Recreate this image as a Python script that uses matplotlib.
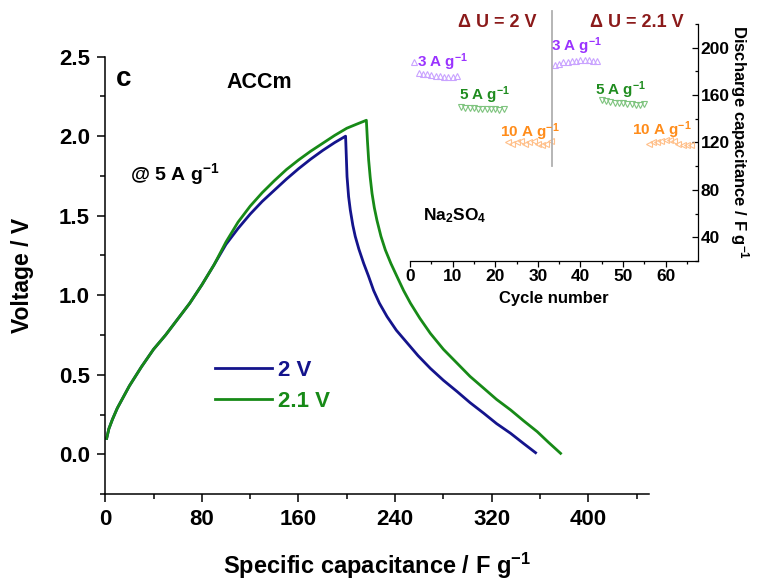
import matplotlib
matplotlib.use('Agg')
import matplotlib.pyplot as plt
from matplotlib.ticker import MultipleLocator

plt.rcParams['font.family'] = ['Liberation Sans', 'DejaVu Sans']
plt.rcParams['font.weight'] = 'bold'
plt.rcParams['mathtext.fontset'] = 'custom'
plt.rcParams['mathtext.rm'] = 'Liberation Sans:bold'
plt.rcParams['mathtext.it'] = 'Liberation Sans:bold'
plt.rcParams['mathtext.bf'] = 'Liberation Sans:bold'
plt.rcParams['mathtext.default'] = 'rm'

# GCD curves at 5 A/g (specific capacitance, voltage)
cap_2v = [1.2, 3, 6, 10, 15, 20, 25, 30, 40, 50, 60, 70, 80, 90, 100, 110, 120, 130, 140, 150, 160, 170, 180, 190, 199,
          200.2, 201.5, 202.9, 205, 207, 210, 214, 218, 222.2, 227, 233.3, 241, 250, 259, 269.2, 280, 291.4,
          302, 313.4, 324, 335.6, 346, 356.3]
volt_2v = [0.10, 0.16, 0.22, 0.29, 0.36, 0.43, 0.49, 0.55, 0.66, 0.75, 0.85, 0.95, 1.065, 1.19, 1.32, 1.42, 1.51, 1.59,
           1.66, 1.73, 1.795, 1.855, 1.91, 1.96, 2.00,
           1.746, 1.62, 1.536, 1.44, 1.37, 1.29, 1.20, 1.12, 1.03, 0.95, 0.866, 0.78, 0.70, 0.62, 0.54, 0.465, 0.394,
           0.325, 0.258, 0.193, 0.132, 0.07, 0.01]

cap_21v = [1.2, 3, 6, 10, 15, 20, 25, 30, 40, 50, 60, 70, 80, 90, 100, 110, 120, 130, 140, 150, 160, 170, 180, 190,
           200, 208, 216.2,
           217.1, 218.1, 219.4, 220.9, 222.8, 225, 228.3, 231.9, 236.5, 241.6, 247, 252.7, 260.5, 269.2, 280, 291.4,
           302, 313.4, 324, 335.6, 346.5, 357.7, 367, 377]
volt_21v = [0.10, 0.16, 0.22, 0.29, 0.36, 0.43, 0.49, 0.55, 0.66, 0.75, 0.85, 0.95, 1.065, 1.19, 1.335, 1.46, 1.56,
            1.645, 1.72, 1.79, 1.85, 1.905, 1.955, 2.005, 2.05, 2.075, 2.10,
            1.97, 1.85, 1.74, 1.64, 1.55, 1.47, 1.37, 1.285, 1.20, 1.117, 1.03, 0.95, 0.855, 0.76, 0.66, 0.572,
            0.49, 0.415, 0.345, 0.279, 0.21, 0.142, 0.075, 0.006]

# inset: rate capability (cycle number, discharge capacitance)
cyc_3a_2v = list(range(1, 12))
cd_3a_2v = [188, 179, 178, 177.5, 177, 176.5, 176, 175.5, 175.5, 175, 176]
cyc_5a_2v = list(range(12, 23))
cd_5a_2v = [150, 149.5, 149, 149, 148.5, 148.5, 148, 148, 148, 147.5, 148]
cyc_10a_2v = list(range(23, 34))
cd_10a_2v = [120, 119, 120, 121, 119, 120, 121, 119, 118, 119, 121]
cyc_3a_21v = list(range(34, 45))
cd_3a_21v = [185, 186, 187.5, 188, 188.5, 189, 190, 190, 189.5, 189, 188.5]
cyc_5a_21v = list(range(45, 56))
cd_5a_21v = [156, 155, 154, 153.5, 153, 153, 152.5, 152.5, 152, 152, 152.5]
cyc_10a_21v = list(range(56, 67))
cd_10a_21v = [119, 120, 120, 121, 122, 122, 121, 119, 118, 118, 118]

blue = '#14148c'
green = '#178a17'
purple = '#9a33ff'
lgreen = '#1f8c1f'
orange = '#ff8c1a'
dred = '#8b1a1a'

fig = plt.figure(figsize=(7.57, 5.84), dpi=100)
ax = fig.add_axes([0.139, 0.154, 0.718, 0.749])

ax.plot(cap_2v, volt_2v, color=blue, lw=2.0, label='2 V')
ax.plot(cap_21v, volt_21v, color=green, lw=2.0, label='2.1 V')

ax.set_xlim(0, 450)
ax.set_ylim(-0.25, 2.5)
ax.xaxis.set_major_locator(MultipleLocator(80))
ax.xaxis.set_minor_locator(MultipleLocator(40))
ax.yaxis.set_major_locator(MultipleLocator(0.5))
ax.yaxis.set_minor_locator(MultipleLocator(0.25))
ax.yaxis.set_major_formatter(plt.FuncFormatter(lambda v, p: '%.1f' % v))
for s in ['top', 'right']:
    ax.spines[s].set_visible(False)
for s in ['left', 'bottom']:
    ax.spines[s].set_linewidth(1.1)
ax.tick_params(which='major', length=6, width=1.1, labelsize=16, pad=5)
ax.tick_params(which='minor', length=3.5, width=1.1)
ax.set_xlabel('Specific capacitance / F g$^{-1}$', fontsize=17, fontweight='bold', labelpad=15)
ax.set_ylabel('Voltage / V', fontsize=16.5, fontweight='bold', labelpad=18)

ax.text(15, 2.36, 'c', fontsize=20, fontweight='bold', ha='center', va='center')
ax.text(127.5, 2.34, 'ACCm', fontsize=15.5, fontweight='bold', ha='center', va='center')
ax.text(20.5, 1.725, '@ 5 A g$^{-1}$', fontsize=14, fontweight='bold', ha='left', va='baseline')

leg = ax.legend(loc='upper left', bbox_to_anchor=(0.2018, 0.307), frameon=False, fontsize=16,
                handlelength=2.55, handletextpad=0.3, borderpad=0, borderaxespad=0, labelspacing=0.45)
for t, c in zip(leg.get_texts(), [blue, green]):
    t.set_color(c)
    t.set_fontweight('bold')

# inset
ins = fig.add_axes([0.5416, 0.553, 0.3805, 0.406])
ins.patch.set_alpha(0)
ms = 4.5
ins.plot(cyc_3a_2v, cd_3a_2v, ls='none', marker='^', ms=ms, mfc='none', mec='#c9a3ff', mew=0.8)
ins.plot(cyc_5a_2v, cd_5a_2v, ls='none', marker='v', ms=ms, mfc='none', mec='#7fc47f', mew=0.8)
ins.plot(cyc_10a_2v, cd_10a_2v, ls='none', marker='<', ms=ms, mfc='none', mec='#ffc08a', mew=0.8)
ins.plot(cyc_3a_21v, cd_3a_21v, ls='none', marker='^', ms=ms, mfc='none', mec='#c9a3ff', mew=0.8)
ins.plot(cyc_5a_21v, cd_5a_21v, ls='none', marker='v', ms=ms, mfc='none', mec='#7fc47f', mew=0.8)
ins.plot(cyc_10a_21v, cd_10a_21v, ls='none', marker='<', ms=ms, mfc='none', mec='#ffc08a', mew=0.8)
ins.plot([33.4, 33.4], [100, 231], color='#b0b0b0', lw=1.3, clip_on=False)

ins.set_xlim(0, 67.6)
ins.set_ylim(20, 220)
ins.xaxis.set_major_locator(MultipleLocator(10))
ins.xaxis.set_minor_locator(MultipleLocator(5))
ins.yaxis.set_major_locator(MultipleLocator(40))
ins.yaxis.set_minor_locator(MultipleLocator(20))
ins.yaxis.tick_right()
ins.yaxis.set_label_position('right')
for s in ['top', 'left']:
    ins.spines[s].set_visible(False)
for s in ['right', 'bottom']:
    ins.spines[s].set_linewidth(0.9)
ins.tick_params(axis='x', which='major', length=4, width=0.9, labelsize=12.5, pad=2, direction='out')
ins.tick_params(axis='x', which='minor', length=2, width=0.9, direction='out')
ins.tick_params(axis='y', which='major', length=4, width=0.9, labelsize=12.5, pad=2, direction='in')
ins.tick_params(axis='y', which='minor', length=2, width=0.9, direction='in')
ins.set_xlabel('Cycle number', fontsize=12, fontweight='bold', labelpad=5)
ins.set_ylabel('Discharge capacitance / F g$^{-1}$', fontsize=12, fontweight='bold',
               rotation=270, labelpad=15)

ins.text(20.4, 221, '\u0394 U = 2 V', color=dred, fontsize=13, fontweight='bold', ha='center', va='center')
ins.text(53.3, 221, '\u0394 U = 2.1 V', color=dred, fontsize=13, fontweight='bold', ha='center', va='center')
ins.text(7.6, 188, '3 A g$^{-1}$', color=purple, fontsize=11, ha='center', va='center')
ins.text(17.6, 160, '5 A g$^{-1}$', color=lgreen, fontsize=11, ha='center', va='center')
ins.text(28.2, 129, '10 A g$^{-1}$', color=orange, fontsize=11, ha='center', va='center')
ins.text(39.2, 201, '3 A g$^{-1}$', color=purple, fontsize=11, ha='center', va='center')
ins.text(49.5, 164.5, '5 A g$^{-1}$', color=lgreen, fontsize=11, ha='center', va='center')
ins.text(59.2, 130, '10 A g$^{-1}$', color=orange, fontsize=11, ha='center', va='center')
ins.text(10.6, 58, 'Na$_2$SO$_4$', fontsize=12.5, ha='center', va='center')

fig.savefig('out.png', dpi=100)
